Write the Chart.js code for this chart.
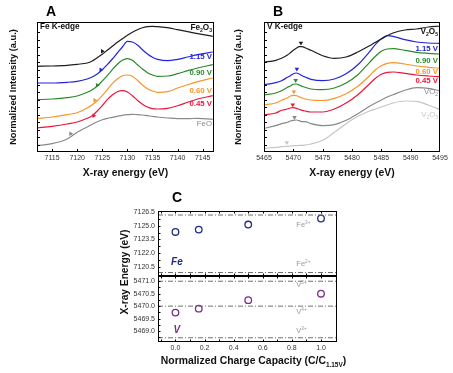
<!DOCTYPE html>
<html>
<head>
<meta charset="utf-8">
<title>Fe and V K-edge XANES</title>
<script src="https://cdn.jsdelivr.net/npm/chart.js@4.4.1/dist/chart.umd.min.js"></script>
<style>
  html, body { margin: 0; padding: 0; background: #fff; }
  #wrap { position: relative; width: 453px; height: 373px; overflow: hidden; }
  canvas { position: absolute; }
</style>
</head>
<body>
<div id="wrap">
  <canvas id="chartA" width="226" height="185" style="left:0px;top:0px"></canvas>
  <canvas id="chartB" width="227" height="185" style="left:226px;top:0px"></canvas>
  <canvas id="chartCv" width="240" height="188" style="left:110px;top:185px"></canvas>
  <canvas id="chartCfe" width="240" height="188" style="left:110px;top:185px"></canvas>
</div>
<script>
const FONT = '"Liberation Sans", Arial, Helvetica, sans-serif';
Chart.defaults.font.family = FONT;

// ---- panel A: Fe K-edge spectra (curves are offset vertically) ----
const feEnergy = [7112, 7115, 7118, 7120, 7122, 7123, 7124, 7125, 7126, 7127, 7128, 7129, 7130, 7131, 7132, 7133, 7134, 7135, 7136, 7138, 7140, 7142, 7144, 7147];
const feFe2O3 = [8.57, 8.60, 8.67, 8.77, 8.90, 9.10, 9.43, 9.77, 10.17, 10.57, 10.97, 11.33, 11.67, 11.97, 12.23, 12.43, 12.53, 12.57, 12.53, 12.43, 12.23, 12.03, 11.83, 11.57];
const fe115V = [6.90, 6.90, 6.97, 7.07, 7.30, 7.50, 7.80, 8.23, 8.73, 9.30, 9.90, 10.50, 11.07, 11.00, 10.70, 10.23, 9.80, 9.47, 9.27, 9.13, 9.27, 9.50, 9.73, 10.00];
const fe090V = [5.23, 5.30, 5.43, 5.60, 5.97, 6.23, 6.60, 7.10, 7.63, 8.23, 8.77, 9.17, 9.33, 9.17, 8.73, 8.30, 7.93, 7.70, 7.57, 7.60, 7.83, 8.13, 8.40, 8.73];
const fe060V = [3.33, 3.50, 3.73, 3.93, 4.40, 4.73, 5.13, 5.63, 6.23, 6.83, 7.30, 7.63, 7.70, 7.57, 7.17, 6.70, 6.33, 6.10, 5.97, 6.03, 6.40, 6.73, 7.03, 7.40];
const fe045V = [2.40, 2.57, 2.80, 3.00, 3.37, 3.63, 4.10, 4.63, 5.23, 5.70, 6.03, 6.13, 6.00, 5.63, 5.17, 4.77, 4.50, 4.33, 4.30, 4.37, 4.63, 4.97, 5.30, 5.63];
const feFeO = [0.63, 0.83, 1.30, 1.97, 2.50, 2.77, 3.03, 3.23, 3.37, 3.47, 3.57, 3.67, 3.73, 3.77, 3.73, 3.70, 3.63, 3.57, 3.50, 3.40, 3.33, 3.33, 3.37, 3.27];
// edge arrows (right-pointing triangles)
const feEdgeEnergy = [7125.0, 7124.7, 7124.0, 7123.5, 7123.3, 7118.7];
const feEdgeLevel = [10.07, 8.23, 6.67, 5.17, 3.63, 1.83];

// ---- panel B: V K-edge spectra ----
const vEnergy = [5465, 5467, 5468, 5469, 5469.5, 5470, 5470.5, 5471, 5471.5, 5472, 5473, 5475, 5477, 5479, 5481, 5483, 5484, 5485, 5486, 5487, 5489, 5491, 5493, 5495];
const vV2O5 = [8.97, 9.17, 9.37, 9.70, 9.93, 10.17, 10.37, 10.53, 10.53, 10.43, 10.17, 9.63, 9.37, 9.50, 10.00, 10.63, 10.97, 11.30, 11.63, 11.90, 12.20, 12.30, 12.50, 12.60];
const v115V = [6.73, 6.93, 7.13, 7.47, 7.63, 7.83, 7.90, 7.80, 7.63, 7.50, 7.27, 7.13, 7.30, 7.83, 8.73, 10.03, 10.77, 11.33, 11.63, 11.57, 11.23, 11.00, 10.90, 10.87];
const v090V = [5.70, 5.90, 6.13, 6.47, 6.60, 6.77, 6.80, 6.70, 6.57, 6.47, 6.30, 6.23, 6.40, 6.90, 7.73, 8.97, 9.57, 10.07, 10.30, 10.33, 10.17, 9.97, 9.87, 9.80];
const v060V = [4.70, 4.90, 5.17, 5.43, 5.60, 5.67, 5.63, 5.53, 5.40, 5.30, 5.20, 5.15, 5.37, 5.83, 6.57, 7.63, 8.23, 8.63, 8.87, 8.93, 8.80, 8.60, 8.47, 8.37];
const v045V = [3.70, 3.90, 4.17, 4.30, 4.40, 4.43, 4.37, 4.27, 4.17, 4.10, 4.00, 4.00, 4.30, 4.90, 5.73, 6.83, 7.37, 7.77, 7.97, 8.00, 7.87, 7.70, 7.60, 7.53];
const vVO2 = [2.37, 2.63, 2.83, 2.97, 3.10, 3.17, 3.20, 3.13, 3.03, 3.03, 2.83, 2.63, 2.73, 3.17, 3.83, 4.57, 4.90, 5.20, 5.50, 5.73, 6.17, 6.43, 6.37, 6.10];
const vV2O3 = [0.37, 0.47, 0.53, 0.57, 0.60, 0.63, 0.63, 0.67, 0.67, 0.70, 0.80, 1.17, 1.97, 2.83, 3.57, 4.10, 4.30, 4.50, 4.70, 4.90, 5.10, 5.07, 4.70, 4.23];
// pre-edge arrows (down-pointing triangles)
const vEdgeEnergy = [5471.3, 5470.6, 5470.4, 5470.1, 5469.9, 5470.2, 5468.9];
const vEdgeLevel = [10.90, 8.30, 7.17, 6.03, 4.73, 3.47, 0.95];

// ---- panel C: edge energy vs normalized charge capacity ----
const capacity = [0, 0.16, 0.5, 1.0];
const feEdgeShift = [7124.31, 7124.57, 7125.12, 7125.78];
const vEdgeShift = [5469.74, 5469.90, 5470.24, 5470.50];
const feRefLevels = [7126.16, 7119.88];        // Fe3+, Fe2+
const vRefLevels = [5471.0, 5470.0, 5468.73];  // V5+, V4+, V3+

const curveColors = ['#1e1e1e', '#2424dc', '#2b8a2b', '#f7962a', '#e8173c', '#8a8a8a', '#c6c6c6'];
const feNavy = '#202c80';
const vPurple = '#7b2c84';
const capMin = -0.12, capMax = 1.11;

function curve(energy, values, color) {
    return {
        data: energy.map((e, i) => ({ x: e, y: values[i] })),
        showLine: true,
        borderColor: color,
        borderWidth: 1.2,
        pointRadius: 0,
        cubicInterpolationMode: 'monotone'
    };
}

function arrows(energy, values, colors, rotation) {
    return {
        data: energy.map((e, i) => ({ x: e, y: values[i] })),
        showLine: false,
        pointStyle: 'triangle',
        pointRotation: rotation,
        pointRadius: 2.6,
        pointBorderWidth: 0,
        pointBackgroundColor: colors,
        pointBorderColor: colors
    };
}

// text with _sub / ^sup pieces
function richText(ctx, parts, x, y, align, size, weight, color) {
    const items = parts.map(p => {
        let mode = 0, t = p;
        if (p[0] === '_') { mode = 1; t = p.slice(1); }
        else if (p[0] === '^') { mode = -1; t = p.slice(1); }
        const s = mode ? size * 0.62 : size;
        ctx.font = weight + ' ' + s + 'px ' + FONT;
        return { t: t, mode: mode, s: s, w: ctx.measureText(t).width };
    });
    const total = items.reduce((a, b) => a + b.w, 0);
    let cx = align === 'right' ? x - total : (align === 'center' ? x - total / 2 : x);
    ctx.fillStyle = color;
    ctx.textAlign = 'left';
    ctx.textBaseline = 'middle';
    items.forEach(it => {
        ctx.font = weight + ' ' + it.s + 'px ' + FONT;
        ctx.fillText(it.t, cx, y + it.mode * size * 0.32);
        cx += it.w;
    });
}

// tick values of a scale, optionally with the half steps in between
function tickValues(scale, minor) {
    const vals = scale.ticks.map(t => t.value);
    if (!minor || vals.length < 2) return vals;
    const half = (vals[1] - vals[0]) / 2;
    const out = [];
    for (let v = vals[0] - half; v <= scale.max + 1e-9; v += half) {
        if (v >= scale.min - 1e-9) out.push(v);
    }
    return out;
}

// box around the plot area with inward tick marks
function drawFrame(chart, opt) {
    const ctx = chart.ctx, a = chart.chartArea, len = opt.len;
    ctx.save();
    ctx.strokeStyle = '#000';
    ctx.lineWidth = 1;
    ctx.strokeRect(a.left + 0.5, a.top + 0.5, a.right - a.left - 1, a.bottom - a.top - 1);
    ctx.beginPath();
    const sx = chart.scales.x;
    tickValues(sx, opt.minor).forEach(v => {
        const px = Math.round(sx.getPixelForValue(v)) + 0.5;
        if (px < a.left + 2 || px > a.right - 2) return;
        if (opt.xBottom) { ctx.moveTo(px, a.bottom); ctx.lineTo(px, a.bottom - len); }
        if (opt.xTop) { ctx.moveTo(px, a.top); ctx.lineTo(px, a.top + len); }
    });
    opt.yIds.forEach(id => {
        const sy = chart.scales[id];
        tickValues(sy, opt.minor).forEach(v => {
            const py = Math.round(sy.getPixelForValue(v)) + 0.5;
            if (py < a.top + 2 || py > a.bottom - 2) return;
            ctx.moveTo(a.left, py);
            ctx.lineTo(a.left + len, py);
        });
    });
    ctx.stroke();
    ctx.restore();
}

function spectrumOptions(xMin, xMax, yWidth, padRight, yTitlePad) {
    return {
        responsive: false,
        animation: false,
        devicePixelRatio: 1,
        layout: { padding: { left: 0, top: 22, right: padRight, bottom: 0 } },
        plugins: { legend: { display: false }, tooltip: { enabled: false } },
        scales: {
            x: {
                type: 'linear', min: xMin, max: xMax,
                grid: { display: false, drawTicks: false }, border: { display: false },
                ticks: { stepSize: 5, includeBounds: false, autoSkip: false, maxRotation: 0, padding: 2,
                         color: '#333', font: { size: 7 }, callback: v => String(v) },
                title: { display: true, text: 'X-ray energy (eV)', color: '#111',
                         font: { size: 10.4, weight: 'bold' }, padding: { top: 0, bottom: 5.5 } },
                afterFit: s => { s.height = 33; }
            },
            y: {
                type: 'linear', min: 0, max: 13,
                grid: { display: false, drawTicks: false }, border: { display: false },
                ticks: { display: false, stepSize: 0.75 },
                title: { display: true, text: 'Normalized Intensity (a.u.)', color: '#111',
                         font: { size: 9.3, weight: 'bold' }, padding: { top: yTitlePad, bottom: 0 } },
                afterFit: s => { s.width = yWidth; }
            }
        }
    };
}

// panel A
const feSeries = [feFe2O3, fe115V, fe090V, fe060V, fe045V, feFeO];
const chartA = new Chart(document.getElementById('chartA'), {
    type: 'scatter',
    data: {
        datasets: feSeries.map((s, i) => curve(feEnergy, s, curveColors[i]))
            .concat([arrows(feEdgeEnergy, feEdgeLevel, curveColors.slice(0, 6), 90)])
    },
    options: spectrumOptions(7112, 7147.25, 37, 12, 7.4),
    plugins: [{
        id: 'panelA',
        afterDraw: chart => {
            drawFrame(chart, { xBottom: true, yIds: ['y'], len: 3 });
            const ctx = chart.ctx, a = chart.chartArea, y = chart.scales.y;
            const rx = a.right - 2;
            richText(ctx, ['Fe K-edge'], a.left + 3, y.getPixelForValue(12.5), 'left', 8.2, 'bold', '#111');
            richText(ctx, ['Fe', '_2', 'O', '_3'], rx, y.getPixelForValue(12.4), 'right', 8.2, 'bold', '#111');
            richText(ctx, ['1.15 V'], rx, y.getPixelForValue(9.5), 'right', 7.8, 'bold', curveColors[1]);
            richText(ctx, ['0.90 V'], rx, y.getPixelForValue(7.9), 'right', 7.8, 'bold', curveColors[2]);
            richText(ctx, ['0.60 V'], rx, y.getPixelForValue(6.15), 'right', 7.8, 'bold', curveColors[3]);
            richText(ctx, ['0.45 V'], rx, y.getPixelForValue(4.8), 'right', 7.8, 'bold', curveColors[4]);
            richText(ctx, ['FeO'], rx, y.getPixelForValue(2.8), 'right', 7.8, 'normal', curveColors[5]);
            richText(ctx, ['A'], 51, 12, 'center', 14, 'bold', '#000');
        }
    }]
});

// panel B
const vSeries = [vV2O5, v115V, v090V, v060V, v045V, vVO2, vV2O3];
const chartB = new Chart(document.getElementById('chartB'), {
    type: 'scatter',
    data: {
        datasets: vSeries.map((s, i) => curve(vEnergy, s, curveColors[i]))
            .concat([arrows(vEdgeEnergy, vEdgeLevel, curveColors, 180)])
    },
    options: spectrumOptions(5465, 5495, 38, 13, 6.9),
    plugins: [{
        id: 'panelB',
        afterDraw: chart => {
            drawFrame(chart, { xBottom: true, yIds: ['y'], len: 3 });
            const ctx = chart.ctx, a = chart.chartArea, y = chart.scales.y;
            const rx = a.right - 2;
            richText(ctx, ['V K-edge'], a.left + 3, y.getPixelForValue(12.5), 'left', 8.2, 'bold', '#111');
            richText(ctx, ['V', '_2', 'O', '_5'], rx, y.getPixelForValue(12.0), 'right', 8.2, 'bold', '#111');
            richText(ctx, ['1.15 V'], rx, y.getPixelForValue(10.3), 'right', 7.8, 'bold', curveColors[1]);
            richText(ctx, ['0.90 V'], rx, y.getPixelForValue(9.07), 'right', 7.8, 'bold', curveColors[2]);
            richText(ctx, ['0.60 V'], rx, y.getPixelForValue(8.0), 'right', 7.8, 'bold', curveColors[3]);
            richText(ctx, ['0.45 V'], rx, y.getPixelForValue(7.13), 'right', 7.8, 'bold', curveColors[4]);
            richText(ctx, ['VO', '_2'], rx, y.getPixelForValue(5.97), 'right', 7.8, 'normal', curveColors[5]);
            richText(ctx, ['V', '_2', 'O', '_3'], rx, y.getPixelForValue(3.67), 'right', 7.8, 'normal', curveColors[6]);
            richText(ctx, ['B'], 52, 12, 'center', 14, 'bold', '#000');
        }
    }]
});

// panel C: two charts stacked on the same spot (Fe on top, V below)
function refLine(level, axisId) {
    return {
        yAxisID: axisId,
        data: [{ x: capMin, y: level }, { x: capMax, y: level }],
        showLine: true,
        borderColor: '#707070',
        borderWidth: 1,
        borderDash: [5, 2, 1, 2],
        pointRadius: 0
    };
}

function edgePoints(values, axisId, color) {
    return {
        yAxisID: axisId,
        data: capacity.map((c, i) => ({ x: c, y: values[i] })),
        showLine: false,
        pointStyle: 'circle',
        pointRadius: 3.3,
        pointBorderWidth: 1.3,
        pointBorderColor: color,
        pointBackgroundColor: 'rgba(0,0,0,0)'
    };
}

function cOptions(axisId, yMin, yMax, step, padTop, padBottom, showX) {
    const scales = {
        x: {
            type: 'linear', min: capMin, max: capMax, display: showX,
            grid: { display: false, drawTicks: false }, border: { display: false },
            ticks: { stepSize: 0.2, includeBounds: false, autoSkip: false, maxRotation: 0, padding: 2,
                     color: '#333', font: { size: 7 }, callback: v => v.toFixed(1) }
        }
    };
    if (showX) {
        scales.x.afterFit = s => { s.height = 31; };
    }
    scales[axisId] = {
        type: 'linear', axis: 'y', position: 'left', min: yMin, max: yMax,
        grid: { display: false, drawTicks: false }, border: { display: false },
        ticks: { stepSize: step, includeBounds: false, autoSkip: false, padding: 3, color: '#333',
                 font: { size: 7 }, callback: v => v.toFixed(1) },
        afterFit: s => { s.width = 48; }
    };
    return {
        responsive: false,
        animation: false,
        devicePixelRatio: 1,
        layout: { padding: { left: 0, top: padTop, right: 13, bottom: padBottom } },
        plugins: { legend: { display: false }, tooltip: { enabled: false } },
        scales: scales
    };
}

const chartCv = new Chart(document.getElementById('chartCv'), {
    type: 'scatter',
    data: {
        datasets: vRefLevels.map(l => refLine(l, 'yV')).concat([edgePoints(vEdgeShift, 'yV', vPurple)])
    },
    options: cOptions('yV', 5468.56, 5471.21, 0.5, 91, 0, true),
    plugins: [{
        id: 'panelCv',
        afterDraw: chart => {
            drawFrame(chart, { xBottom: true, xTop: true, yIds: ['yV'], len: 2.5, minor: true });
            const ctx = chart.ctx, a = chart.chartArea, x = chart.scales.x, y = chart.scales.yV;
            const lx = x.getPixelForValue(0.83);
            richText(ctx, ['V', '^5+'], lx, y.getPixelForValue(5470.84), 'left', 7.6, 'normal', '#9a9a9a');
            richText(ctx, ['V', '^4+'], lx, y.getPixelForValue(5469.77), 'left', 7.6, 'normal', '#9a9a9a');
            richText(ctx, ['V', '^3+'], lx, y.getPixelForValue(5469.0), 'left', 7.6, 'normal', '#9a9a9a');
            richText(ctx, ['V'], x.getPixelForValue(0.01), y.getPixelForValue(5469.05), 'center', 10, 'italic bold', vPurple);
            // shared axis titles
            richText(ctx, ['Normalized Charge Capacity (C/C', '_1.15V', ')'], (a.left + a.right) / 2 + 6, 176.5, 'center', 10.4, 'bold', '#111');
            ctx.save();
            ctx.translate(15.5, 87);
            ctx.rotate(-Math.PI / 2);
            richText(ctx, ['X-ray Energy (eV)'], 0, 0, 'center', 10.2, 'bold', '#111');
            ctx.restore();
            richText(ctx, ['C'], 67, 13, 'center', 14, 'bold', '#000');
        }
    }]
});

const chartCfe = new Chart(document.getElementById('chartCfe'), {
    type: 'scatter',
    data: {
        datasets: feRefLevels.map(l => refLine(l, 'yFe')).concat([edgePoints(feEdgeShift, 'yFe', feNavy)])
    },
    options: cOptions('yFe', 7119.5, 7126.6, 1.5, 26, 97, false),
    plugins: [{
        id: 'panelCfe',
        afterDraw: chart => {
            drawFrame(chart, { xBottom: true, xTop: true, yIds: ['yFe'], len: 2.5, minor: true });
            const ctx = chart.ctx, x = chart.scales.x, y = chart.scales.yFe;
            const lx = x.getPixelForValue(0.83);
            richText(ctx, ['Fe', '^3+'], lx, y.getPixelForValue(7125.07), 'left', 7.6, 'normal', '#9a9a9a');
            richText(ctx, ['Fe', '^2+'], lx, y.getPixelForValue(7120.8), 'left', 7.6, 'normal', '#9a9a9a');
            richText(ctx, ['Fe'], x.getPixelForValue(0.01), y.getPixelForValue(7121.0), 'center', 10, 'italic bold', feNavy);
        }
    }]
});
</script>
</body>
</html>
